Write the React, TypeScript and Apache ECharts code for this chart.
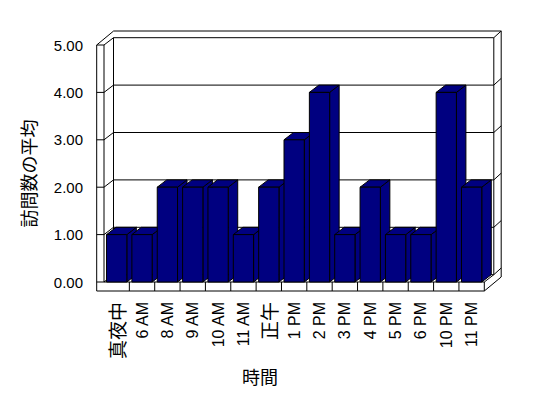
import React, { useEffect, useRef } from "react";
import * as echarts from "echarts";

const categories = ["真夜中", "6 AM", "8 AM", "9 AM", "10 AM", "11 AM", "正午", "1 PM", "2 PM", "3 PM", "4 PM", "5 PM", "6 PM", "10 PM", "11 PM"];
const visits = [1, 1, 2, 2, 2, 1, 2, 3, 4, 1, 2, 1, 1, 4, 2];
const yTicks = [0, 1, 2, 3, 4, 5];
const yAxisTitle = "訪問数の平均";
const xAxisTitle = "時間";

const D = { x: 9.5, y: -7.3 }; // depth of plot interior
const T = { x: 7.4, y: -6.7 }; // back wall thickness
const WALL = 7.3; // left wall thickness
const FLOOR = 9; // floor thickness
const BAR_COLOR = "#000080";

const ln = (x1: number, y1: number, x2: number, y2: number) => ({
  type: "line",
  shape: { x1, y1, x2, y2 },
  style: { stroke: "#000", lineWidth: 1, fill: null },
  silent: true,
});

export default function App() {
  const ref = useRef<HTMLDivElement>(null);
  useEffect(() => {
    if (!ref.current) return;
    const chart = echarts.init(ref.current, undefined, { renderer: "svg" });
    const yMax = yTicks[yTicks.length - 1];

    const boxRender = (params: any, api: any) => {
      const bw = api.size([1, 0])[0];
      const c0 = api.coord([0, 0]);
      const xL = c0[0] - bw / 2;
      const xR = xL + categories.length * bw;
      const y0 = c0[1];
      const yT = api.coord([0, yMax])[1];
      const children: any[] = [];
      children.push({
        type: "polygon",
        shape: {
          points: [
            [xL - WALL + D.x + T.x, yT + D.y + T.y],
            [xR + D.x + T.x, yT + D.y + T.y],
            [xR + D.x + T.x, y0 + FLOOR + D.y + T.y],
            [xR, y0 + FLOOR],
            [xL - WALL, y0 + FLOOR],
            [xL - WALL, yT],
          ],
        },
        style: { fill: "#fff", stroke: null },
        silent: true,
      });
      children.push(ln(xL + D.x, yT + D.y, xR + D.x, yT + D.y));
      children.push(ln(xL - WALL + D.x + T.x, yT + D.y + T.y, xR + D.x + T.x, yT + D.y + T.y));
      children.push(ln(xR + D.x, yT + D.y, xR + D.x + T.x, yT + D.y + T.y));
      children.push(ln(xR + D.x, yT + D.y, xR + D.x, y0 + D.y));
      children.push(ln(xR + D.x + T.x, yT + D.y + T.y, xR + D.x + T.x, y0 + FLOOR + D.y + T.y));
      children.push(ln(xL + D.x, yT + D.y, xL + D.x, y0 + D.y));
      children.push(ln(xL - WALL, yT, xL - WALL, y0 + FLOOR));
      children.push(ln(xL, yT, xL, y0));
      children.push(ln(xL - WALL, yT, xL, yT));
      children.push(ln(xL - WALL, yT, xL - WALL + D.x + T.x, yT + D.y + T.y));
      children.push(ln(xL, yT, xL + D.x, yT + D.y));
      yTicks.forEach((t) => {
        const y = api.coord([0, t])[1];
        if (t !== yMax) {
          children.push(ln(xL - WALL, y, xL, y));
          children.push(ln(xL, y, xL + D.x, y + D.y));
          children.push(ln(xL + D.x, y + D.y, xR + D.x, y + D.y));
          children.push(ln(xR + D.x, y + D.y, xR + D.x + T.x, y + D.y + T.y));
        }
      });
      children.push(ln(xL - WALL, y0 + FLOOR, xR, y0 + FLOOR));
      children.push(ln(xL, y0, xR, y0));
      children.push(ln(xR, y0, xR, y0 + FLOOR));
      children.push(ln(xR, y0, xR + D.x, y0 + D.y));
      children.push(ln(xR, y0 + FLOOR, xR + D.x + T.x, y0 + FLOOR + D.y + T.y));
      for (let i = 1; i < categories.length; i++) {
        const x = xL + i * bw;
        children.push(ln(x, y0, x, y0 + FLOOR));
      }
      return { type: "group", children };
    };

    const barRender = (params: any, api: any) => {
      const i = api.value(0);
      const v = api.value(1);
      const top = api.coord([i, v]);
      const base = api.coord([i, 0]);
      const bw = api.size([1, 0])[0];
      const w = bw * 0.8;
      const xl = top[0] - w / 2;
      const xr = xl + w;
      const yt = top[1];
      const yb = base[1];
      const st = { fill: BAR_COLOR, stroke: "#000", lineWidth: 1 };
      return {
        type: "group",
        children: [
          {
            type: "polygon",
            z2: i * 3,
            shape: { points: [[xr, yt], [xr + D.x, yt + D.y], [xr + D.x, yb + D.y], [xr, yb]] },
            style: st,
          },
          {
            type: "polygon",
            z2: i * 3 + 1,
            shape: { points: [[xl, yt], [xr, yt], [xr + D.x, yt + D.y], [xl + D.x, yt + D.y]] },
            style: st,
          },
          {
            type: "rect",
            z2: i * 3 + 2,
            shape: { x: xl, y: yt, width: w, height: yb - yt },
            style: st,
          },
        ],
      };
    };

    chart.setOption({
      animation: false,
      backgroundColor: "#fff",
      grid: { left: 104, right: 63.7, top: 45, bottom: 116, containLabel: false },
      xAxis: {
        type: "category",
        data: categories,
        boundaryGap: true,
        axisLine: { show: false },
        axisTick: { show: false },
        splitLine: { show: false },
        axisLabel: {
          rotate: 90,
          interval: 0,
          margin: 20,
          color: "#000",
          fontSize: 16,
          fontFamily: "Liberation Sans, Arial, sans-serif",
          formatter: (v: string) => (/[^\x00-\x7f]/.test(v) ? `{j|${v}}` : v),
          rich: {
            j: { fontSize: 19, fontFamily: "Noto Sans CJK JP", color: "#000" },
          },
        },
      },
      yAxis: {
        type: "value",
        min: 0,
        max: yMax,
        interval: 1,
        axisLine: { show: false },
        axisTick: { show: false },
        splitLine: { show: false },
        axisLabel: {
          margin: 21,
          color: "#000",
          fontSize: 15,
          fontFamily: "Liberation Sans, Arial, sans-serif",
          formatter: (v: number) => v.toFixed(2),
        },
      },
      graphic: [
        {
          type: "text",
          x: 28,
          y: 173.5,
          rotation: Math.PI / 2,
          style: {
            text: yAxisTitle,
            fontSize: 18,
            fontFamily: "Noto Sans CJK JP",
            fill: "#000",
            align: "center",
            verticalAlign: "middle",
          },
        },
        {
          type: "text",
          x: 260,
          y: 376,
          style: {
            text: xAxisTitle,
            fontSize: 18,
            fontFamily: "Noto Sans CJK JP",
            fill: "#000",
            align: "center",
            verticalAlign: "middle",
          },
        },
      ],
      series: [
        {
          type: "custom",
          renderItem: boxRender,
          data: [[0, 0]],
          clip: false,
          silent: true,
          z: 1,
        },
        {
          type: "custom",
          renderItem: barRender,
          data: visits.map((v, i) => [i, v]),
          clip: false,
          z: 2,
        },
      ],
    });
    return () => chart.dispose();
  }, []);
  return (
    <div style={{ position: "fixed", left: 0, top: 0 }}>
      <div ref={ref} style={{ width: 548, height: 398 }} />
    </div>
  );
}
